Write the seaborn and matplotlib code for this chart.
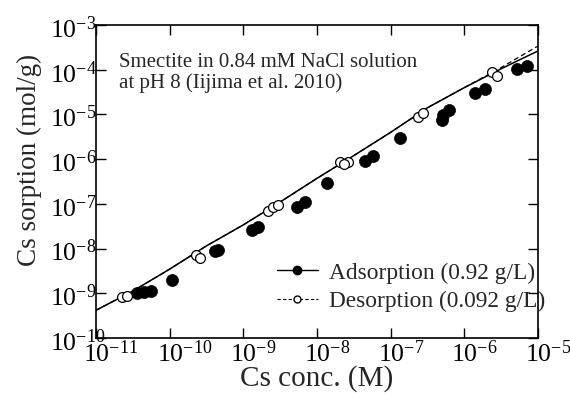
import numpy as np
import pandas as pd
import seaborn as sns
import matplotlib
matplotlib.use("Agg")
import matplotlib.pyplot as plt
from matplotlib.lines import Line2D
from matplotlib.transforms import ScaledTranslation
from matplotlib.ticker import LogLocator, LogFormatterMathtext, NullLocator

# Measured Cs sorption on smectite (0.84 mM NaCl, pH 8)
ads_conc = [3.55e-11, 4.47e-11, 5.62e-11, 1.07e-10, 4.07e-10, 4.47e-10, 1.32e-9, 1.58e-9,
            5.37e-9, 6.92e-9, 1.35e-8, 4.47e-8, 5.75e-8, 1.32e-7, 4.90e-7, 5.13e-7,
            6.17e-7, 1.38e-6, 1.91e-6, 5.13e-6, 7.08e-6]
ads_sorb = [1.02e-9, 1.07e-9, 1.12e-9, 2.0e-9, 8.7e-9, 9.3e-9, 2.57e-8, 3.02e-8,
            8.5e-8, 1.10e-7, 2.95e-7, 9.1e-7, 1.17e-6, 2.95e-6, 7.4e-6, 9.8e-6,
            1.26e-5, 3.02e-5, 3.72e-5, 1.05e-4, 1.20e-4]

des_conc = [2.24e-11, 2.63e-11, 2.29e-10, 2.57e-10, 2.14e-9, 2.51e-9, 2.95e-9,
            2.04e-8, 2.63e-8, 2.29e-8, 2.34e-7, 2.75e-7, 2.34e-6, 2.75e-6]
des_sorb = [8.3e-10, 8.7e-10, 7.1e-9, 6.2e-9, 6.9e-8, 8.5e-8, 9.3e-8,
            8.7e-7, 8.7e-7, 7.8e-7, 8.7e-6, 1.07e-5, 8.9e-5, 7.4e-5]

# Model curves
model_conc = [1e-11, 3.16e-11, 1e-10, 3.16e-10, 1e-9, 3.16e-9, 1e-8, 3.16e-8,
              1e-7, 3.16e-7, 1e-6, 3.16e-6, 1e-5]
model_ads = [4.17e-10, 1.12e-9, 3.47e-9, 1.15e-8, 3.39e-8, 1.10e-7, 3.72e-7, 1.20e-6,
             3.98e-6, 1.41e-5, 3.98e-5, 1.05e-4, 2.63e-4]
model_des = [4.17e-10, 1.12e-9, 3.47e-9, 1.15e-8, 3.39e-8, 1.10e-7, 3.72e-7, 1.20e-6,
             3.98e-6, 1.41e-5, 3.98e-5, 1.12e-4, 3.39e-4]

legend_labels = ["Adsorption (0.92 g/L)", "Desorption (0.092 g/L)"]
note = "Smectite in 0.84 mM NaCl solution\nat pH 8 (Iijima et al. 2010)"

sns.set_theme(style="ticks")
plt.rcParams["font.family"] = ["Liberation Serif", "DejaVu Serif"]
plt.rcParams["mathtext.fontset"] = "custom"
plt.rcParams["mathtext.rm"] = "Liberation Serif"
plt.rcParams["mathtext.default"] = "regular"

fig = plt.figure(figsize=(5.70, 3.98), dpi=100)
ax = fig.add_axes([96 / 570, 1 - 338 / 398, 442 / 570, 313 / 398])

ads = pd.DataFrame({"conc": ads_conc, "sorb": ads_sorb})
des = pd.DataFrame({"conc": des_conc, "sorb": des_sorb})
model = pd.DataFrame({"conc": model_conc, "ads": model_ads, "des": model_des})

sns.lineplot(data=model, x="conc", y="des", ax=ax, color="black", lw=0.9,
             linestyle=(0, (4, 2.5)), estimator=None, sort=False)
sns.lineplot(data=model, x="conc", y="ads", ax=ax, color="black", lw=1.1,
             estimator=None, sort=False)
sns.scatterplot(data=ads, x="conc", y="sorb", ax=ax, color="black", s=75,
                edgecolor="black", linewidth=0.5, zorder=3)
sns.scatterplot(data=des, x="conc", y="sorb", ax=ax, facecolor="white", s=50,
                edgecolor="black", linewidth=0.9, zorder=4)

ax.set_xscale("log")
ax.set_yscale("log")
ax.set_xlim(1e-11, 1e-5)
ax.set_ylim(1e-10, 1e-3)
ax.xaxis.set_major_locator(LogLocator(base=10, numticks=20))
ax.yaxis.set_major_locator(LogLocator(base=10, numticks=20))
ax.xaxis.set_minor_locator(NullLocator())
ax.yaxis.set_minor_locator(NullLocator())
ax.xaxis.set_major_formatter(LogFormatterMathtext())
ax.yaxis.set_major_formatter(LogFormatterMathtext())

for side in ax.spines.values():
    side.set_linewidth(1.2)
    side.set_color("black")
ax.tick_params(which="major", direction="in", length=7, width=1.0, top=True, right=True,
               labelsize=18.5, colors="black", pad=1.5)

ax.set_xlabel("Cs conc. (M)", fontsize=21, labelpad=-1)
ax.set_ylabel("Cs sorption (mol/g)", fontsize=19.5)
ax.yaxis.set_label_coords(-0.122, 0.57)

fig.canvas.draw()
for lab in ax.get_xticklabels():
    lab.set_ha("left")
    lab.set_transform(lab.get_transform() + ScaledTranslation(-0.13, 0, fig.dpi_scale_trans))
for lab in ax.get_yticklabels():
    lab.set_ha("left")
    lab.set_transform(lab.get_transform() + ScaledTranslation(-0.44, -0.02, fig.dpi_scale_trans))

ax.text(0.052, 0.91, note, transform=ax.transAxes, fontsize=15, va="top", ha="left",
        linespacing=1.1)

handles = [
    Line2D([], [], color="black", lw=1.0, marker="o", markersize=6,
           markerfacecolor="black", markeredgecolor="black"),
    Line2D([], [], color="black", lw=0.8, linestyle=(0, (3, 2)), marker="o", markersize=5,
           markerfacecolor="white", markeredgecolor="black"),
]
ax.legend(handles, legend_labels, loc="upper left", bbox_to_anchor=(0.4095, 0.242),
          frameon=False, fontsize=16.8, handlelength=1.75, handletextpad=0.47,
          labelspacing=0.32, borderaxespad=0, borderpad=0)

fig.savefig("out.png", dpi=100)
